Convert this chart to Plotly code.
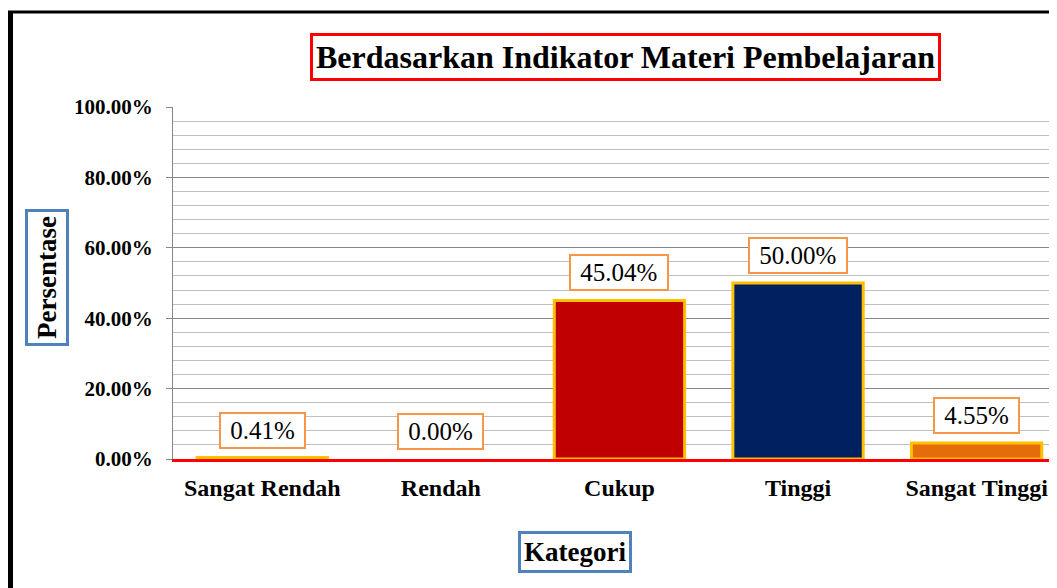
import plotly.graph_objects as go

kategori = ['Sangat Rendah', 'Rendah', 'Cukup', 'Tinggi', 'Sangat Tinggi']
persentase = [0.41, 0.00, 45.04, 50.00, 4.55]
warna = ['#E46C0A', '#E46C0A', '#C00000', '#002060', '#E46C0A']
y_ticks = [0, 20, 40, 60, 80, 100]

FONT = 'Liberation Serif, Times New Roman, serif'

# plot area in figure pixels (page has an 8px body offset)
L, T, PW, PH = 165, 99, 884, 352
W, H = 1049, 580


def px(x):
    return (x - 8 - L) / PW


def py(y):
    return (T + PH - (y - 8)) / PH


fig = go.Figure()

fig.add_trace(go.Bar(
    x=kategori,
    y=persentase,
    marker=dict(color=warna,
                line=dict(color='#FFC000', width=[3 if v > 0 else 0 for v in persentase])),
    width=0.73,
    hoverinfo='x+y',
))

# data labels in orange boxes
for k, v in zip(kategori, persentase):
    fig.add_annotation(
        x=k, y=v, text=f'&nbsp;{v:.2f}%&nbsp;',
        xref='x', yref='y',
        yanchor='bottom', yshift=9,
        showarrow=False,
        font=dict(family=FONT, size=25, color='black'),
        bgcolor='white', bordercolor='#F79646', borderwidth=2, borderpad=3,
    )

fig.update_layout(
    width=W, height=H,
    margin=dict(l=L, r=W - L - PW, t=T, b=H - T - PH),
    paper_bgcolor='white', plot_bgcolor='white',
    showlegend=False,
    xaxis=dict(
        range=[-0.5, 4.45],
        showline=True, linecolor='#FF0000', linewidth=3,
        showgrid=False, ticks='',
        ticklabelstandoff=5,
        tickfont=dict(family=FONT, size=24, color='black', weight='bold'),
        fixedrange=True,
    ),
    yaxis=dict(
        range=[0, 100],
        tickvals=y_ticks,
        ticktext=[f'{t:.2f}%' for t in y_ticks],
        tickfont=dict(family=FONT, size=21, color='black', weight='bold'),
        ticklabelstandoff=9,
        showline=True, linecolor='#868686', linewidth=1,
        ticks='outside', ticklen=6, tickcolor='#868686',
        showgrid=True, gridcolor='#868686', gridwidth=1,
        minor=dict(dtick=4, showgrid=True, gridcolor='#BFBFBF', gridwidth=1),
        zeroline=False,
        fixedrange=True,
    ),
)

# title box
fig.add_annotation(
    x=px(625), y=py(57), xref='paper', yref='paper',
    text='<b>Berdasarkan Indikator Materi Pembelajaran</b>',
    showarrow=False, xanchor='center', yanchor='middle',
    font=dict(family=FONT, size=32, color='black'),
    bgcolor='white', bordercolor='#FF0000', borderwidth=3, borderpad=3,
)

# y axis title box
fig.add_annotation(
    x=px(47), y=py(278), xref='paper', yref='paper',
    text='<b>Persentase</b>', textangle=-90,
    showarrow=False, xanchor='center', yanchor='middle',
    font=dict(family=FONT, size=27, color='black'),
    bgcolor='white', bordercolor='#4F81BD', borderwidth=3, borderpad=4,
)

# x axis title box
fig.add_annotation(
    x=px(575), y=py(552), xref='paper', yref='paper',
    text='<b>Kategori</b>',
    showarrow=False, xanchor='center', yanchor='middle',
    font=dict(family=FONT, size=27, color='black'),
    bgcolor='white', bordercolor='#4F81BD', borderwidth=3, borderpad=3,
)

# outer chart border (only left and top edges are visible in the crop)
fig.add_shape(type='line', xref='paper', yref='paper',
              x0=px(10.5), x1=px(10.5), y0=py(600), y1=py(11),
              line=dict(color='black', width=5), layer='below')
fig.add_shape(type='line', xref='paper', yref='paper',
              x0=px(8), x1=px(1070), y0=py(12), y1=py(12),
              line=dict(color='black', width=3), layer='below')

fig.write_html('out.html')
